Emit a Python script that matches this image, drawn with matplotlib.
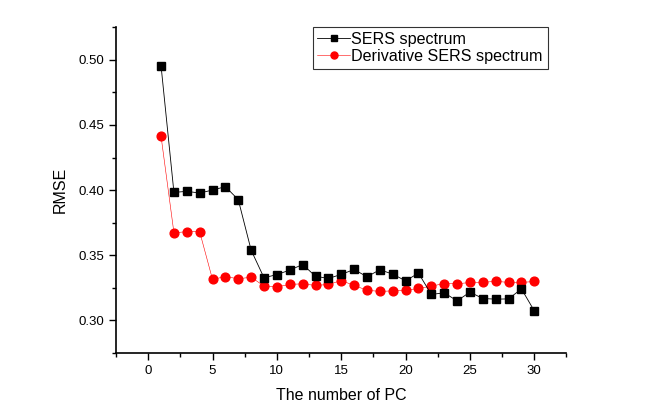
# RMSE vs number of principal components, SERS vs derivative SERS

import numpy as np
import matplotlib.pyplot as plt
import matplotlib.ticker as ticker

plt.rcParams['font.family'] = ['Liberation Sans', 'DejaVu Sans']

n_pc = list(range(1, 31))
sers = [0.4954, 0.3982, 0.3990, 0.3977, 0.4000, 0.4026, 0.3926, 0.3538,
        0.3326, 0.3351, 0.3385, 0.3428, 0.3338, 0.3321, 0.3352, 0.3390,
        0.3334, 0.3388, 0.3354, 0.3303, 0.3362, 0.3198, 0.3211, 0.3149,
        0.3216, 0.3167, 0.3162, 0.3164, 0.3241, 0.3072]
deriv = [0.4413, 0.3672, 0.3680, 0.3680, 0.3313, 0.3336, 0.3318, 0.3331,
         0.3262, 0.3257, 0.3275, 0.3280, 0.3267, 0.3275, 0.3305, 0.3267,
         0.3231, 0.3221, 0.3226, 0.3231, 0.3244, 0.3262, 0.3282, 0.3280,
         0.3290, 0.3290, 0.3300, 0.3290, 0.3290, 0.3298]

fig = plt.figure(figsize=(6.61, 4.2), dpi=100)
ax = fig.add_axes([0.1755, 0.160, 0.857 - 0.1755, 0.935 - 0.160])

ax.plot(n_pc, sers, color='black', lw=0.6, marker='s', ms=6,
        label='SERS spectrum', zorder=3)
ax.plot(n_pc, deriv, color='red', lw=0.4, marker='o', ms=6.3,
        mec='red', label='Derivative SERS spectrum', zorder=2)

ax.set_xlim(-2.5, 32.5)
ax.set_ylim(0.275, 0.525)
ax.xaxis.set_major_locator(ticker.MultipleLocator(5))
ax.xaxis.set_minor_locator(ticker.MultipleLocator(2.5))
ax.yaxis.set_major_locator(ticker.MultipleLocator(0.05))
ax.yaxis.set_minor_locator(ticker.MultipleLocator(0.025))
ax.yaxis.set_major_formatter(ticker.FormatStrFormatter('%.2f'))

for s in ['top', 'right']:
    ax.spines[s].set_visible(False)
for s in ['left', 'bottom']:
    ax.spines[s].set_linewidth(1.2)
ax.tick_params(which='major', direction='out', length=5, width=1, labelsize=9.5)
ax.tick_params(which='minor', direction='out', length=3, width=1)

ax.set_xlabel('The number of PC', fontsize=11.5, labelpad=8)
ax.set_ylabel('RMSE', fontsize=11.5, labelpad=8)

leg = ax.legend(loc='upper right', bbox_to_anchor=(0.958, 1.0), borderaxespad=0,
                fontsize=11.6, frameon=True, fancybox=False, edgecolor='black',
                handlelength=2.0, handletextpad=0.1, borderpad=0.3,
                labelspacing=0.1, markerscale=0.8)
leg.get_frame().set_linewidth(0.8)

plt.savefig('out.png', dpi=100)
